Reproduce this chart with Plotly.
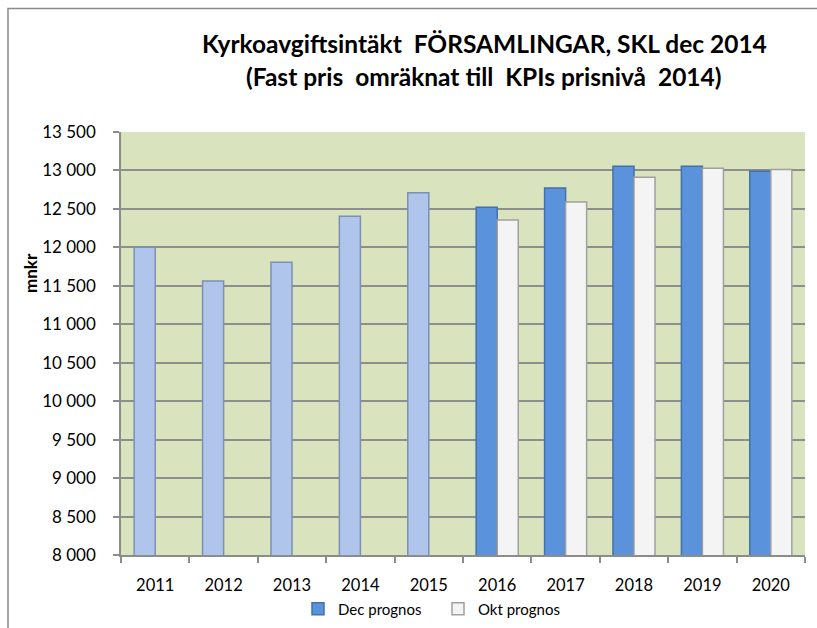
import plotly.graph_objects as go

years = ["2011", "2012", "2013", "2014", "2015", "2016", "2017", "2018", "2019", "2020"]
hist_years = years[:5]
hist_values = [12000, 11564, 11808, 12406, 12710]
prog_years = years[5:]
dec_values = [12520, 12773, 13056, 13056, 12991]
okt_values = [12357, 12591, 12913, 13030, 13013]
y_ticks = [8000, 8500, 9000, 9500, 10000, 10500, 11000, 11500, 12000, 12500, 13000, 13500]
y_ticktext = ["8 000", "8 500", "9 000", "9 500", "10 000", "10 500", "11 000", "11 500",
              "12 000", "12 500", "13 000", "13 500"]

FONT = "Lato"
L, R, T, B = 121, 12, 132, 73
W, H = 817, 628
pw, ph = W - L - R, H - T - B

def px_x(x):
    return (x - L) / pw

def px_y(y):
    return (H - B - y) / ph

fig = go.Figure()
fig.add_trace(go.Bar(
    x=hist_years, y=hist_values, offsetgroup="dec", showlegend=False,
    marker=dict(color="#b0c5ec", line=dict(color="#7d90b4", width=1.5)),
    name="Dec prognos (utfall)",
))
fig.add_trace(go.Bar(
    x=prog_years, y=dec_values, offsetgroup="dec", name="Dec prognos",
    marker=dict(color="#5a93dc", line=dict(color="#4470ad", width=1.5)),
))
fig.add_trace(go.Bar(
    x=prog_years, y=okt_values, offsetgroup="okt", name="Okt prognos",
    marker=dict(color="#f4f4f4", line=dict(color="#a0a0a0", width=1.5)),
))

fig.update_layout(
    width=W, height=H,
    margin=dict(l=L, r=R, t=T, b=B, autoexpand=False),
    paper_bgcolor="white",
    plot_bgcolor="#d9e3be",
    barmode="group",
    bargap=0.385,
    bargroupgap=0,
    font=dict(family=FONT, color="black", size=16),
    showlegend=True,
    legend=dict(orientation="h", x=px_x(298), xanchor="left", y=px_y(609), yanchor="middle",
                font=dict(size=15, family=FONT), bgcolor="rgba(0,0,0,0)",
                entrywidth=95, itemwidth=30, traceorder="normal"),
    xaxis=dict(
        type="category", categoryorder="array", categoryarray=years,
        showline=True, linecolor="#8c8c8c", linewidth=1.5,
        ticks="outside", tickson="boundaries", ticklen=6, tickcolor="#8c8c8c", tickwidth=1.5,
        tickfont=dict(size=16.5, family=FONT), showgrid=False, ticklabelstandoff=14,
    ),
    yaxis=dict(
        range=[8000, 13500], tickvals=y_ticks, ticktext=y_ticktext,
        showline=True, linecolor="#8c8c8c", linewidth=1.5,
        ticks="outside", ticklen=6, tickcolor="#8c8c8c", tickwidth=1.5,
        showgrid=True, gridcolor="#8e8e8e", gridwidth=1.5,
        tickfont=dict(size=17, family=FONT), ticklabelstandoff=14, zeroline=False,
    ),
    annotations=[
        dict(text="<b>Kyrkoavgiftsintäkt  FÖRSAMLINGAR, SKL dec 2014</b>", xref="paper", yref="paper",
             x=px_x(484), y=px_y(44), xanchor="center", yanchor="middle", showarrow=False,
             font=dict(size=24.5, family=FONT)),
        dict(text="<b>(Fast pris  omräknat till  KPIs prisnivå  2014)</b>", xref="paper", yref="paper",
             x=px_x(484), y=px_y(76), xanchor="center", yanchor="middle", showarrow=False,
             font=dict(size=24.5, family=FONT)),
        dict(text="<b>mnkr</b>", xref="paper", yref="paper", x=px_x(30), y=px_y(273),
             xanchor="center", yanchor="middle", showarrow=False, textangle=-90,
             font=dict(size=17, family=FONT)),
    ],
    shapes=[
        dict(type="rect", xref="paper", yref="paper", x0=px_x(8), x1=px_x(830),
             y0=px_y(650), y1=px_y(8.5), line=dict(color="#8a8a8a", width=1.5), layer="below"),
    ],
)

fig.write_html("out.html", config={"displayModeBar": False},
               post_script="document.body.style.margin='0';document.body.style.overflow='hidden';")
